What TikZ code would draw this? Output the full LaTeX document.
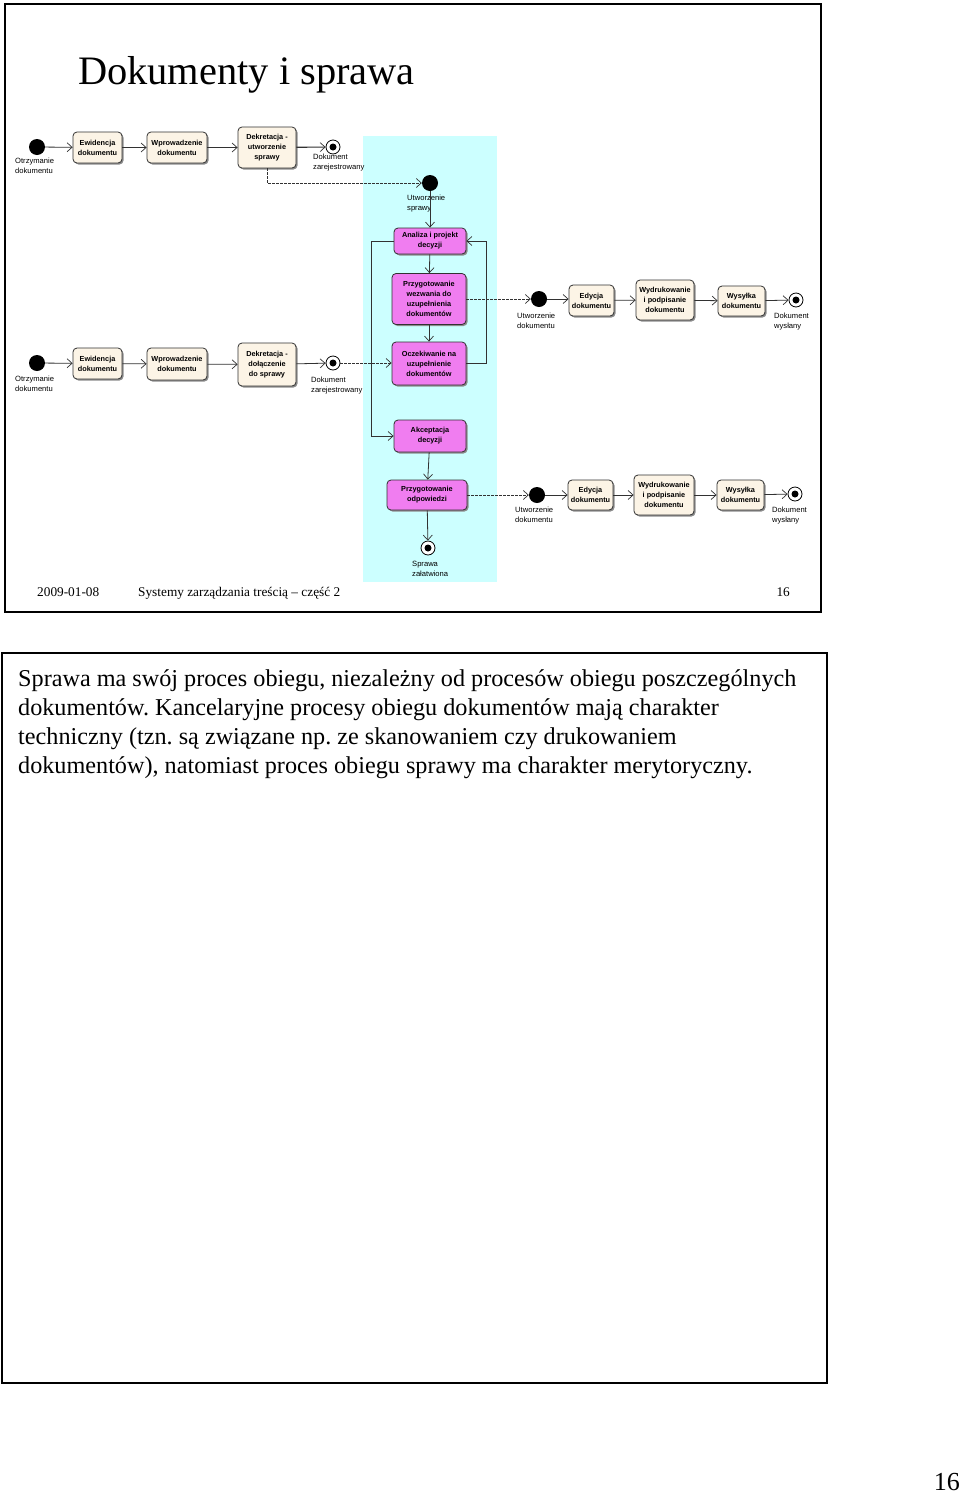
\documentclass[tikz,border=0pt]{standalone}
\usepackage{fontspec}
\setmainfont{Liberation Serif}
\newfontfamily\arialf{Liberation Sans}
\usetikzlibrary{arrows.meta,shadows}
\definecolor{cream}{RGB}{252,244,230}
\definecolor{mag}{RGB}{240,125,240}
\definecolor{cyanbg}{RGB}{204,255,255}
\definecolor{ln}{RGB}{50,50,50}
\newcommand\actfnt{\arialf\bfseries\fontsize{7.3}{10}\selectfont}
\newcommand\lblfnt{\arialf\fontsize{7.6}{10}\selectfont}
\frenchspacing
\begin{document}
\begin{tikzpicture}[x=1pt,y=-1pt,
  act/.style={draw=ln, line width=0.8pt, rounded corners=4pt, fill=cream, align=center,
    font=\actfnt, inner sep=1pt,
    drop shadow={shadow xshift=1.5pt, shadow yshift=-1.5pt, fill=black!45, opacity=1}},
  actm/.style={act, fill=mag},
  startc/.style={circle, fill=black, minimum size=16pt, inner sep=0pt},
  endc/.style={circle, draw=black, fill=white, line width=0.8pt, minimum size=14pt, inner sep=0pt},
  lbl/.style={anchor=north west, align=left, font=\lblfnt, inner sep=0pt},
  arr/.style={draw=ln, line width=0.8pt, -{Straight Barb[length=5pt, width=9pt, line width=0.7pt]}},
  dsh/.style={arr, dash pattern=on 2.5pt off 1.5pt},
  txt/.style={anchor=base west, inner sep=0pt}]
\useasboundingbox (0,0) rectangle (960,1494);
\fill[white] (0,0) rectangle (960,1494);
% slide frame
\fill[cyanbg] (363,136) rectangle (497,582);
\draw[line width=2pt] (5,4) rectangle (821,612);
\node[txt, font=\fontsize{40.4}{48}\selectfont] (title) at (78,84) {Dokumenty i sprawa};

% row 1
\node[startc] (s1) at (37,147) {};
\node[act, minimum width=49pt, minimum height=31pt] (e1) at (97.5,147.5) {Ewidencja\\dokumentu};
\node[act, minimum width=60pt, minimum height=31pt] (w1) at (177,147.5) {Wprowadzenie\\dokumentu};
\node[act, minimum width=58pt, minimum height=41pt] (d1) at (267,147.5) {Dekretacja -\\utworzenie\\sprawy};
\node[endc] (z1) at (333,147) {};
\fill (z1.center) circle (3.5);
\node[lbl] (ls1) at (15,158) {Otrzymanie\\dokumentu};
\node[lbl] (lz1) at (313,154) {Dokument\\zarejestrowany};

% sprawa lane
\node[startc] (us) at (430,183) {};
\node[lbl] (lus) at (407,195) {Utworzenie\\sprawy};
\node[actm, minimum width=72pt, minimum height=26pt] (an) at (430,241) {Analiza i projekt\\decyzji};
\node[actm, minimum width=74pt, minimum height=51pt] (pw) at (429,299) {Przygotowanie\\wezwania do\\uzupełnienia\\dokumentów};
\node[actm, minimum width=74pt, minimum height=43pt] (oc) at (429,363.5) {Oczekiwanie na\\uzupełnienie\\dokumentów};
\node[actm, minimum width=72pt, minimum height=32pt] (ak) at (430,436) {Akceptacja\\decyzji};
\node[actm, minimum width=80pt, minimum height=30pt] (po) at (427,495) {Przygotowanie\\odpowiedzi};
\node[endc] (sz) at (428,548) {};
\fill (sz.center) circle (3.5);
\node[lbl] (lsz) at (412,561) {Sprawa\\załatwiona};

% right row 1
\node[startc] (ud1) at (539,299) {};
\node[lbl] (lud1) at (517,313) {Utworzenie\\dokumentu};
\node[act, minimum width=45pt, minimum height=31pt] (ed1) at (591.5,300.5) {Edycja\\dokumentu};
\node[act, minimum width=58pt, minimum height=40pt] (wd1) at (665,300) {Wydrukowanie\\i podpisanie\\dokumentu};
\node[act, minimum width=47pt, minimum height=30pt] (wy1) at (741.5,301) {Wysyłka\\dokumentu};
\node[endc] (ew1) at (796,300) {};
\fill (ew1.center) circle (3.5);
\node[lbl] (lew1) at (774,313) {Dokument\\wysłany};

% row 2
\node[startc] (s2) at (37,363) {};
\node[act, minimum width=49pt, minimum height=31pt] (e2) at (97.5,363.5) {Ewidencja\\dokumentu};
\node[act, minimum width=60pt, minimum height=32pt] (w2) at (177,364) {Wprowadzenie\\dokumentu};
\node[act, minimum width=58pt, minimum height=43pt] (d2) at (267,364.5) {Dekretacja -\\dołączenie\\do sprawy};
\node[endc] (z2) at (333,363) {};
\fill (z2.center) circle (3.5);
\node[lbl] (ls2) at (15,376) {Otrzymanie\\dokumentu};
\node[lbl] (lz2) at (311,377) {Dokument\\zarejestrowany};

% right row 2
\node[startc] (ud2) at (537,495) {};
\node[lbl] (lud2) at (515,507) {Utworzenie\\dokumentu};
\node[act, minimum width=45pt, minimum height=30pt] (ed2) at (590.5,495) {Edycja\\dokumentu};
\node[act, minimum width=60pt, minimum height=40pt] (wd2) at (664,495) {Wydrukowanie\\i podpisanie\\dokumentu};
\node[act, minimum width=47pt, minimum height=30pt] (wy2) at (740.5,495) {Wysyłka\\dokumentu};
\node[endc] (ew2) at (795,494) {};
\fill (ew2.center) circle (3.5);
\node[lbl] (lew2) at (772,507) {Dokument\\wysłany};

% edges row 1
\draw[arr] (s1) -- (e1);
\draw[arr, line width=1.1pt] (e1) -- (w1);
\draw[arr] (w1) -- (d1);
\draw[arr, line width=1.1pt] (d1) -- (z1);
\coordinate (k1) at (d1.south |- us);
\draw[dsh] (d1.south) -- (k1) -- (us);
% lane
\draw[arr] (us) -- (an);
\draw[arr] (an) -- (pw);
\draw[arr] (pw) -- (oc);
\draw[arr] (an.west) -- ++(-22,0) |- (ak.west);
\draw[arr] (oc.east) -- ++(20,0) |- (an.east);
\draw[arr] (ak) -- (po);
\draw[arr] (po) -- (sz);
\draw[dsh] (pw.east) -- (ud1);
\draw[dsh] (po.east) -- (ud2);
% right rows
\draw[arr] (ud1) -- (ed1.west |- ud1);
\draw[arr] (ed1) -- (wd1);
\draw[arr] (wd1) -- (wy1);
\draw[arr] (wy1) -- (ew1);
\draw[arr] (ud2) -- (ed2);
\draw[arr] (ed2) -- (wd2);
\draw[arr] (wd2) -- (wy2);
\draw[arr] (wy2) -- (ew2);
% row 2
\draw[arr] (s2) -- (e2);
\draw[arr] (e2) -- (w2);
\draw[arr] (w2) -- (d2);
\draw[arr] (d2) -- (z2);
\draw[dsh] (z2) -- (oc.west |- z2);

% footer
\node[txt, font=\fontsize{13.3}{16}\selectfont] (fdate) at (37,596) {2009-01-08};
\node[txt, font=\fontsize{13.3}{16}\selectfont] (ftitle) at (138,596) {Systemy zarządzania treścią – część 2};
\node[anchor=base east, inner sep=0pt, font=\fontsize{13.3}{16}\selectfont] (fnum) at (790,596) {16};

% notes frame
\draw[line width=2pt] (2,653) rectangle (827,1383);
\node[txt, font=\fontsize{24.2}{29}\selectfont] (t1) at (18,686) {Sprawa ma swój proces obiegu, niezależny od procesów obiegu poszczególnych};
\node[txt, font=\fontsize{24.2}{29}\selectfont] (t2) at (18,715) {dokumentów. Kancelaryjne procesy obiegu dokumentów mają charakter};
\node[txt, font=\fontsize{24.2}{29}\selectfont] (t3) at (18,744) {techniczny (tzn. są związane np. ze skanowaniem czy drukowaniem};
\node[txt, font=\fontsize{24.2}{29}\selectfont] (t4) at (18,773) {dokumentów), natomiast proces obiegu sprawy ma charakter merytoryczny.};

\node[anchor=base east, inner sep=0pt, font=\fontsize{26}{30}\selectfont] (pnum) at (960,1490) {16};
\end{tikzpicture}
\end{document}
